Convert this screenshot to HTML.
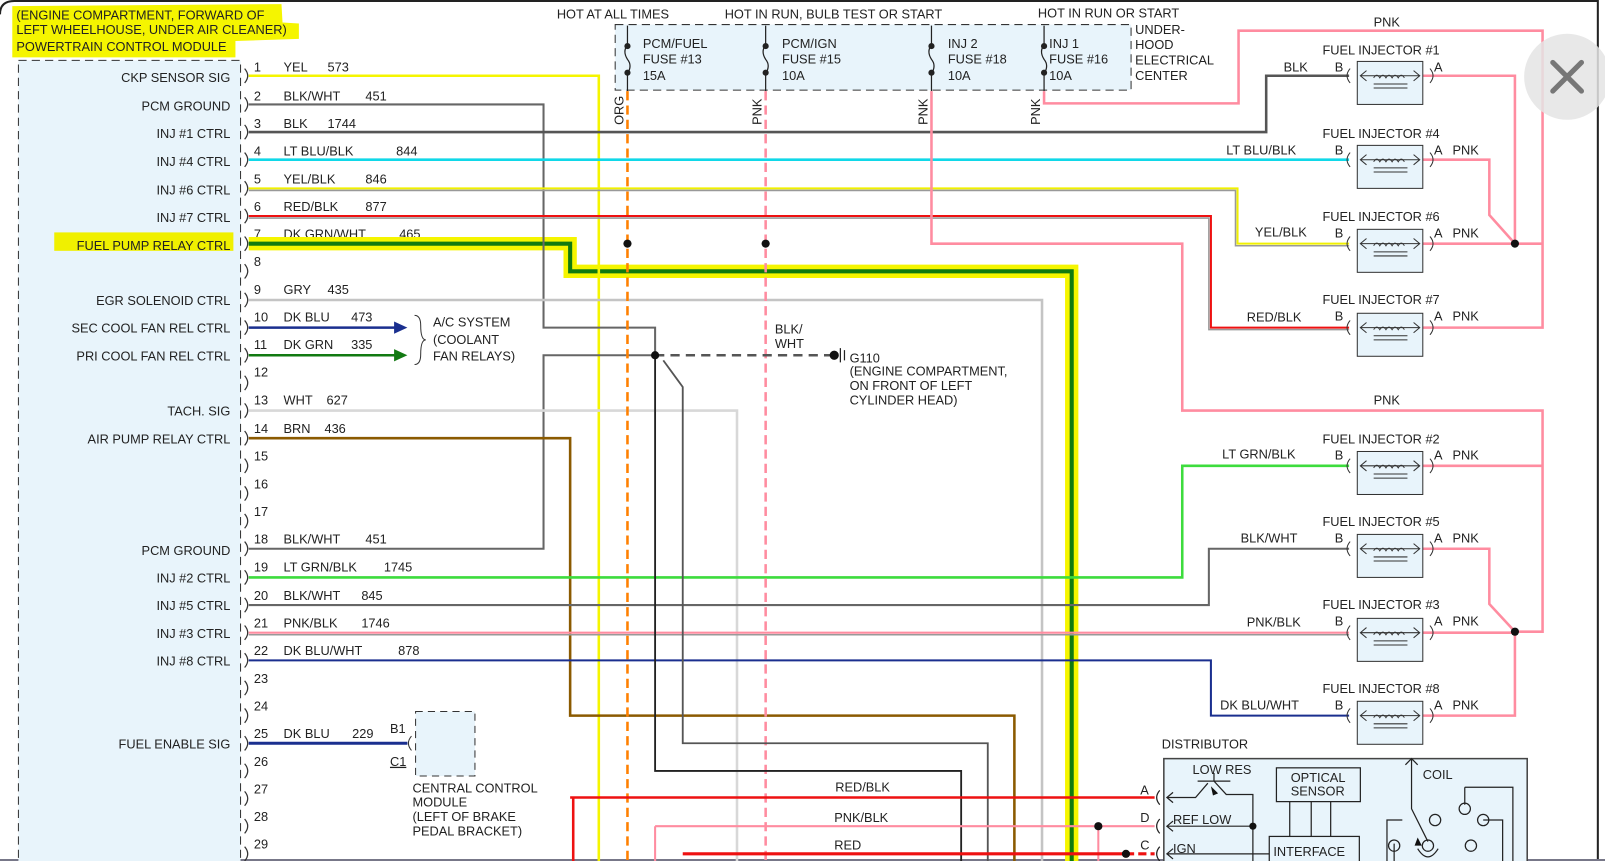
<!DOCTYPE html>
<html><head><meta charset="utf-8"><style>
html,body{margin:0;padding:0;background:#fff;overflow:hidden}
svg{display:block}
text{font-family:"Liberation Sans",sans-serif;font-size:12.5px;fill:#222}
</style></head><body>
<svg width="1605" height="861" viewBox="0 0 1568 841" preserveAspectRatio="none" xmlns="http://www.w3.org/2000/svg">
<rect width="1568" height="841" fill="#fff"/>
<path d="M0,14 Q0,1 14,1 L1561,1 L1561,841" fill="none" stroke="#222" stroke-width="2"/>
<line x1="0" y1="840" x2="1568" y2="840" stroke="#778" stroke-width="2"/>

<path d="M12,6 L275,4 L276,22 L292,23 L292,38 L230,40 L230,56 L12,56 Z" fill="#f5f500"/>
<text x="16" y="19">(ENGINE COMPARTMENT, FORWARD OF</text>
<text x="16" y="33">LEFT WHEELHOUSE, UNDER AIR CLEANER)</text>
<text x="16" y="50">POWERTRAIN CONTROL MODULE</text>

<rect x="18" y="59" width="217" height="790" fill="#e8f4fb" stroke="#333" stroke-dasharray="8,5"/>
<rect x="53" y="227" width="175" height="18" fill="#f0f000"/>
<g text-anchor="end">
<text x="225" y="80">CKP SENSOR SIG</text>
<text x="225" y="108">PCM GROUND</text>
<text x="225" y="135">INJ #1 CTRL</text>
<text x="225" y="162">INJ #4 CTRL</text>
<text x="225" y="190">INJ #6 CTRL</text>
<text x="225" y="217">INJ #7 CTRL</text>
<text x="225" y="244">FUEL PUMP RELAY CTRL</text>
<text x="225" y="298">EGR SOLENOID CTRL</text>
<text x="225" y="325">SEC COOL FAN REL CTRL</text>
<text x="225" y="352">PRI COOL FAN REL CTRL</text>
<text x="225" y="406">TACH. SIG</text>
<text x="225" y="433">AIR PUMP RELAY CTRL</text>
<text x="225" y="542">PCM GROUND</text>
<text x="225" y="569">INJ #2 CTRL</text>
<text x="225" y="596">INJ #5 CTRL</text>
<text x="225" y="623">INJ #3 CTRL</text>
<text x="225" y="650">INJ #8 CTRL</text>
<text x="225" y="731">FUEL ENABLE SIG</text>
</g>
<defs>
<path id="c" d="M239,-7 Q245,0 239,7" fill="none" stroke="#333" stroke-width="1.2"/>
</defs>
<g>
<use href="#c" y="74"/><use href="#c" y="102"/><use href="#c" y="129"/><use href="#c" y="156"/><use href="#c" y="184"/><use href="#c" y="211"/><use href="#c" y="238"/><use href="#c" y="265"/><use href="#c" y="293"/><use href="#c" y="320"/><use href="#c" y="347"/><use href="#c" y="374"/><use href="#c" y="401"/><use href="#c" y="428"/><use href="#c" y="455"/><use href="#c" y="482"/><use href="#c" y="509"/><use href="#c" y="536"/><use href="#c" y="564"/><use href="#c" y="591"/><use href="#c" y="618"/><use href="#c" y="645"/><use href="#c" y="672"/><use href="#c" y="699"/><use href="#c" y="726"/><use href="#c" y="753"/><use href="#c" y="780"/><use href="#c" y="807"/><use href="#c" y="834"/>
</g>
<g>
<text x="248" y="70">1</text><text x="277" y="70">YEL</text><text x="320" y="70">573</text>
<text x="248" y="98">2</text><text x="277" y="98">BLK/WHT</text><text x="357" y="98">451</text>
<text x="248" y="125">3</text><text x="277" y="125">BLK</text><text x="320" y="125">1744</text>
<text x="248" y="152">4</text><text x="277" y="152">LT BLU/BLK</text><text x="387" y="152">844</text>
<text x="248" y="179">5</text><text x="277" y="179">YEL/BLK</text><text x="357" y="179">846</text>
<text x="248" y="206">6</text><text x="277" y="206">RED/BLK</text><text x="357" y="206">877</text>
<text x="248" y="233">7</text><text x="277" y="233">DK GRN/WHT</text><text x="390" y="233">465</text>
<text x="248" y="260">8</text>
<text x="248" y="287">9</text><text x="277" y="287">GRY</text><text x="320" y="287">435</text>
<text x="248" y="314">10</text><text x="277" y="314">DK BLU</text><text x="343" y="314">473</text>
<text x="248" y="341">11</text><text x="277" y="341">DK GRN</text><text x="343" y="341">335</text>
<text x="248" y="368">12</text>
<text x="248" y="395">13</text><text x="277" y="395">WHT</text><text x="319" y="395">627</text>
<text x="248" y="423">14</text><text x="277" y="423">BRN</text><text x="317" y="423">436</text>
<text x="248" y="450">15</text><text x="248" y="477">16</text><text x="248" y="504">17</text>
<text x="248" y="531">18</text><text x="277" y="531">BLK/WHT</text><text x="357" y="531">451</text>
<text x="248" y="558">19</text><text x="277" y="558">LT GRN/BLK</text><text x="375" y="558">1745</text>
<text x="248" y="586">20</text><text x="277" y="586">BLK/WHT</text><text x="353" y="586">845</text>
<text x="248" y="613">21</text><text x="277" y="613">PNK/BLK</text><text x="353" y="613">1746</text>
<text x="248" y="640">22</text><text x="277" y="640">DK BLU/WHT</text><text x="389" y="640">878</text>
<text x="248" y="667">23</text><text x="248" y="694">24</text>
<text x="248" y="721">25</text><text x="277" y="721">DK BLU</text><text x="344" y="721">229</text>
<text x="248" y="748">26</text><text x="248" y="775">27</text><text x="248" y="802">28</text><text x="248" y="829">29</text>
</g>

<rect x="601" y="24" width="504" height="64" fill="#e8f4fb" stroke="#333" stroke-dasharray="8,5"/>
<text x="544" y="18">HOT AT ALL TIMES</text>
<text x="708" y="18">HOT IN RUN, BULB TEST OR START</text>
<text x="1014" y="17">HOT IN RUN OR START</text>
<text x="1109" y="33">UNDER-</text><text x="1109" y="48">HOOD</text><text x="1109" y="63">ELECTRICAL</text><text x="1109" y="78">CENTER</text>
<text x="628" y="47">PCM/FUEL</text><text x="628" y="62">FUSE #13</text><text x="628" y="78">15A</text>
<text x="764" y="47">PCM/IGN</text><text x="764" y="62">FUSE #15</text><text x="764" y="78">10A</text>
<text x="926" y="47">INJ 2</text><text x="926" y="62">FUSE #18</text><text x="926" y="78">10A</text>
<text x="1025" y="47">INJ 1</text><text x="1025" y="62">FUSE #16</text><text x="1025" y="78">10A</text>
<g stroke="#222" stroke-width="1.2" fill="none">
<path d="M613,25 V44 M613,72 V89 M613,44 Q608,50 613,58 Q618,64 613,72"/>
<path d="M748,25 V44 M748,72 V89 M748,44 Q743,50 748,58 Q753,64 748,72"/>
<path d="M910,25 V44 M910,72 V89 M910,44 Q905,50 910,58 Q915,64 910,72"/>
<path d="M1020,25 V44 M1020,72 V89 M1020,44 Q1015,50 1020,58 Q1025,64 1020,72"/>
</g>
<g fill="#222"><circle cx="613" cy="45" r="3"/><circle cx="613" cy="71" r="3"/><circle cx="748" cy="45" r="3"/><circle cx="748" cy="71" r="3"/><circle cx="910" cy="45" r="3"/><circle cx="910" cy="71" r="3"/><circle cx="1020" cy="45" r="3"/><circle cx="1020" cy="71" r="3"/></g>
<g font-size="12">
<text transform="translate(609,122) rotate(-90)">ORG</text>
<text transform="translate(744,122) rotate(-90)">PNK</text>
<text transform="translate(906,122) rotate(-90)">PNK</text>
<text transform="translate(1016,122) rotate(-90)">PNK</text>
</g>

<g fill="none" stroke-linejoin="miter">
<path d="M243,238 H557 V265 H1047 V841" stroke="#f5f500" stroke-width="13"/>
<path d="M243,238 H557 V265 H1047 V841" stroke="#107a10" stroke-width="4"/>
<path d="M243,74 H585 V841" stroke="#f5f500" stroke-width="2.5"/>
<path d="M243,102 H531 V320 H640 V347 M243,536 H531 V347 H640" stroke="#666" stroke-width="2"/>
<path d="M243,129 H1237 V74 H1318" stroke="#555" stroke-width="2.5"/>
<path d="M243,156 H1318" stroke="#10d8e8" stroke-width="2.5"/>
<path d="M243,186 H1207 V240 H1318" stroke="#999" stroke-width="1.5"/>
<path d="M243,184 H1209 V238 H1318" stroke="#f0f000" stroke-width="2"/>
<path d="M243,213 H1181 V322 H1318" stroke="#999" stroke-width="1.5"/>
<path d="M243,211 H1183 V320 H1318" stroke="#ee1111" stroke-width="2"/>
<path d="M243,293 H1018 V841" stroke="#c4c4c4" stroke-width="2.5"/>
<path d="M243,320 H388" stroke="#1a2f8f" stroke-width="2.5"/>
<path d="M243,347 H388" stroke="#127a12" stroke-width="2.5"/>
<path d="M243,401 H720 V841" stroke="#d8d8d8" stroke-width="2.5"/>
<path d="M243,428 H557 V699 H991 V841" stroke="#8b5a00" stroke-width="2.5"/>
<path d="M243,564 H1155 V455 H1318" stroke="#3ddc3d" stroke-width="2.5"/>
<path d="M243,591 H1181 V536 H1318" stroke="#666" stroke-width="2"/>
<path d="M243,620 H1318" stroke="#999" stroke-width="1.5"/>
<path d="M243,618 H1318" stroke="#ff8ca0" stroke-width="2"/>
<path d="M243,645 H1183 V699 H1318" stroke="#1a2f8f" stroke-width="2"/>
<path d="M243,726 H398" stroke="#1a2f8f" stroke-width="3"/>
<path d="M613,89 V841" stroke="#ff8000" stroke-width="2.5" stroke-dasharray="9,5"/>
<path d="M748,89 V841" stroke="#ff8ca0" stroke-width="2.5" stroke-dasharray="9,5"/>
<path d="M910,89 V238 H1155 V401 H1507 V617 H1480" stroke="#ff8ca0" stroke-width="2.5"/>
<path d="M1020,89 V101 H1210 V30 H1507 V320 H1390 M1507,238 H1390" stroke="#ff8ca0" stroke-width="2.5"/>
<path d="M1390,74 H1480 V238 M1390,156 H1455 V210 L1480,238" stroke="#ff8ca0" stroke-width="2.5"/>
<path d="M1390,455 H1507 M1390,536 H1455 V590 L1480,617 M1390,618 H1480 M1390,699 H1480 V617" stroke="#ff8ca0" stroke-width="2.5"/>
<path d="M640,347 H815" stroke="#555" stroke-width="2.5" stroke-dasharray="9,6"/>
<path d="M640,347 V753 H939 V841" stroke="#222" stroke-width="1.8"/>
<path d="M648,352 L667,378 V726 H965 V841" stroke="#555" stroke-width="1.8"/>
<path d="M557,779 H1128 M560,779 V841" stroke="#ee1111" stroke-width="2.5"/>
<path d="M640,807 H1128 M640,807 V841 M1073,807 V841" stroke="#ff8ca0" stroke-width="2"/>
<path d="M667,834 H1100" stroke="#ee1111" stroke-width="3"/>
<path d="M1100,834 H1128" stroke="#ee1111" stroke-width="3" stroke-dasharray="8,4"/>
</g>
<g fill="#111"><circle cx="613" cy="238" r="4"/><circle cx="748" cy="238" r="4"/><circle cx="640" cy="347" r="4"/><circle cx="815" cy="347" r="4.5"/><circle cx="1480" cy="238" r="4"/><circle cx="1480" cy="617" r="4"/><circle cx="1073" cy="807" r="4"/><circle cx="1100" cy="834" r="4"/></g>
<path d="M385,314 L398,320 L385,326 Z" fill="#1a2f8f"/>
<path d="M385,341 L398,347 L385,353 Z" fill="#127a12"/>
<path d="M405,308 Q411,308 411,318 Q411,332 416,332 Q411,332 411,346 Q411,356 405,356" fill="none" stroke="#333"/>
<text x="423" y="319">A/C SYSTEM</text><text x="423" y="336">(COOLANT</text><text x="423" y="352">FAN RELAYS)</text>
<path d="M821,340 V354 M825,342 V352" stroke="#222" stroke-width="1.2"/>
<text x="757" y="326">BLK/</text><text x="757" y="340">WHT</text>
<text x="830" y="354">G110</text><text x="830" y="367">(ENGINE COMPARTMENT,</text><text x="830" y="381">ON FRONT OF LEFT</text><text x="830" y="395">CYLINDER HEAD)</text>

<rect x="406" y="695" width="58" height="63" fill="#e8f4fb" stroke="#333" stroke-dasharray="7,5"/>
<path d="M402,719 Q396,726 402,733" fill="none" stroke="#333"/>
<text x="381" y="716">B1</text><text x="381" y="748" text-decoration="underline">C1</text>
<text x="403" y="774">CENTRAL CONTROL</text><text x="403" y="788">MODULE</text><text x="403" y="802">(LEFT OF BRAKE</text><text x="403" y="816">PEDAL BRACKET)</text>
<text x="816" y="773">RED/BLK</text><text x="815" y="803">PNK/BLK</text><text x="815" y="830">RED</text>

<defs>
<g id="inj">
<rect x="1326" y="-14" width="64" height="42" fill="#e8f4fb" stroke="#333"/>
<path d="M1319,-7 Q1313,0 1319,7 M1397,-7 Q1403,0 1397,7" fill="none" stroke="#333"/>
<path d="M1329,0 H1387 M1335,-5 L1329,0 L1335,5 M1381,-5 L1387,0 L1381,5" fill="none" stroke="#333"/>
<path d="M1342,2 q3,-5 6,0 q3,-5 6,0 q3,-5 6,0 q3,-5 6,0 q3,-5 6,0" fill="none" stroke="#333"/>
<path d="M1342,8 H1375 M1342,12 H1375" stroke="#333"/>
</g>
</defs>
<use href="#inj" y="74"/><use href="#inj" y="156"/><use href="#inj" y="238"/><use href="#inj" y="320"/>
<use href="#inj" y="455"/><use href="#inj" y="536"/><use href="#inj" y="618"/><use href="#inj" y="699"/>
<g>
<text x="1292" y="53">FUEL INJECTOR #1</text><text x="1304" y="70">B</text><text x="1401" y="70">A</text><text x="1254" y="70">BLK</text>
<text x="1292" y="135">FUEL INJECTOR #4</text><text x="1304" y="151">B</text><text x="1401" y="151">A</text><text x="1419" y="151">PNK</text><text x="1198" y="151">LT BLU/BLK</text>
<text x="1292" y="216">FUEL INJECTOR #6</text><text x="1304" y="232">B</text><text x="1401" y="232">A</text><text x="1419" y="232">PNK</text><text x="1226" y="231">YEL/BLK</text>
<text x="1292" y="297">FUEL INJECTOR #7</text><text x="1304" y="313">B</text><text x="1401" y="313">A</text><text x="1419" y="313">PNK</text><text x="1218" y="314">RED/BLK</text>
<text x="1342" y="26">PNK</text><text x="1342" y="395">PNK</text>
<text x="1292" y="433">FUEL INJECTOR #2</text><text x="1304" y="449">B</text><text x="1401" y="449">A</text><text x="1419" y="449">PNK</text><text x="1194" y="448">LT GRN/BLK</text>
<text x="1292" y="514">FUEL INJECTOR #5</text><text x="1304" y="530">B</text><text x="1401" y="530">A</text><text x="1419" y="530">PNK</text><text x="1212" y="530">BLK/WHT</text>
<text x="1292" y="595">FUEL INJECTOR #3</text><text x="1304" y="611">B</text><text x="1401" y="611">A</text><text x="1419" y="611">PNK</text><text x="1218" y="612">PNK/BLK</text>
<text x="1292" y="677">FUEL INJECTOR #8</text><text x="1304" y="693">B</text><text x="1401" y="693">A</text><text x="1419" y="693">PNK</text><text x="1192" y="693">DK BLU/WHT</text>
</g>

<text x="1135" y="731">DISTRIBUTOR</text>
<rect x="1137" y="741" width="355" height="110" fill="#e8f4fb" stroke="#444" stroke-width="1.5"/>
<g fill="none" stroke="#222" stroke-width="1.2">
<path d="M1133,772 Q1127,779 1133,786 M1133,800 Q1127,807 1133,814 M1133,827 Q1127,834 1133,841"/>
<path d="M1140,779 H1168 L1180,765 M1170,763 H1202 M1186,763 V755 M1186,763 L1198,776 H1224 V841 M1140,807 H1224 M1140,834 H1240"/>
<path d="M1146,774 L1140,779 L1146,784 M1146,802 L1140,807 L1146,812 M1146,829 L1140,834 L1146,839"/>
<rect x="1247" y="750" width="82" height="33"/>
<path d="M1260,783 V817 M1281,783 V817 M1300,783 V817"/>
<rect x="1240" y="817" width="88" height="30"/>
<path d="M1379,741 L1379,790 L1395,822 M1373,747 L1379,741 L1385,747"/>
<path d="M1431,769 H1478 V841 M1431,769 V786 M1449,801 H1468 V841 M1370,801 H1355 V841 M1362,824 V841"/>
<circle cx="1431" cy="790" r="5.5"/><circle cx="1402" cy="801" r="5.5"/><circle cx="1449" cy="801" r="5.5"/><circle cx="1395" cy="826" r="5.5"/><circle cx="1362" cy="826" r="5.5"/><circle cx="1437" cy="826" r="5.5"/>
<path d="M1385,829 Q1395,845 1405,829"/>
</g>
<path d="M1183,768 L1190,775 L1185,777 Z M1382,826 L1385,818 L1389,826 Z" fill="#111"/>
<circle cx="1224" cy="807" r="3.5" fill="#111"/>
<text x="1165" y="756">LOW RES</text><text x="1261" y="764">OPTICAL</text><text x="1261" y="777">SENSOR</text>
<text x="1390" y="761">COIL</text><text x="1146" y="805">REF LOW</text><text x="1146" y="833">IGN</text><text x="1244" y="836">INTERFACE</text>
<text x="1114" y="776">A</text><text x="1114" y="803">D</text><text x="1114" y="830">C</text>

<circle cx="1531" cy="75" r="42" fill="#e4e4e4" opacity="0.85"/>
<path d="M1517,61 L1545,89 M1545,61 L1517,89" stroke="#777" stroke-width="5" stroke-linecap="round"/>
</svg>
</body></html>
